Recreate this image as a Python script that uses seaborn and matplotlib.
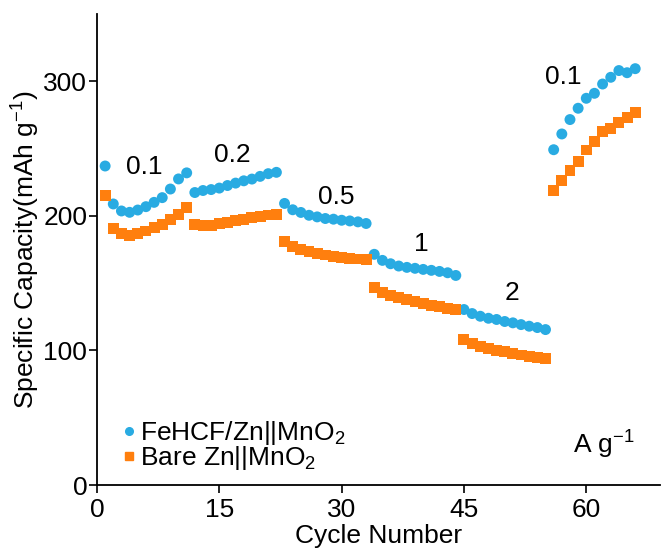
import numpy as np
import pandas as pd
import matplotlib
matplotlib.use("Agg")
import matplotlib.pyplot as plt
import seaborn as sns
from matplotlib.lines import Line2D

cycles = list(range(1, 67))
fehcf = [237, 208.8, 203.6, 202.6, 204.3, 206.8, 210, 213.5, 219.9, 227.4, 231.9,
         217.3, 218.8, 219.5, 220.6, 222.5, 224.3, 226, 227.3, 229.3, 231.3, 232.3,
         209.2, 204.5, 202.5, 200.4, 199.2, 198, 197.5, 196.7, 196.2, 195.5, 194.3,
         171.4, 166.9, 164.4, 162.7, 161.7, 161, 160.2, 159.5, 158.7, 157.7, 155.7,
         130.4, 127.4, 125.4, 123.9, 123, 121.5, 120.5, 119.2, 118, 117, 115.5,
         249.1, 260.8, 271.5, 279.9, 287.3, 291, 297.9, 302.9, 307.9, 306.3, 309.3]
bare = [214.8, 190.4, 186.7, 185.7, 186.7, 188.7, 191.2, 193.7, 197.5, 201.2, 206.1,
        193.7, 193, 193, 194.3, 195, 196.3, 197.3, 198.6, 199.6, 200.6, 201.2,
        180.6, 177.1, 175.1, 173.6, 172.1, 170.9, 169.6, 168.9, 168.4, 167.9, 167.7,
        147, 143.3, 140.8, 139.1, 137.6, 136.1, 134.9, 133.6, 132.4, 131.4, 130.4,
        108, 105.1, 103.1, 101.6, 100.1, 98.9, 97.6, 96.6, 95.6, 94.6, 93.7,
        218.6, 226.5, 234, 240.4, 248.9, 255.3, 262.5, 265, 269, 273.2, 276.9]
rate_labels = ["0.1", "0.2", "0.5", "1", "2", "0.1"]
rate_label_x = [5.8, 16.6, 29.3, 39.8, 50.9, 57.2]
rate_label_y = [236, 245, 214, 179, 143, 303]
series_names = ["FeHCF/Zn||MnO$_2$", "Bare Zn||MnO$_2$"]
colors = ["#29ABE2", "#FF7F0E"]
xticks = [0, 15, 30, 45, 60]
yticks = [0, 100, 200, 300]

sns.set_style("ticks")
plt.rcParams['font.family'] = ['Liberation Sans', 'DejaVu Sans']
plt.rcParams['mathtext.fontset'] = 'custom'
plt.rcParams['mathtext.rm'] = 'Liberation Sans'
plt.rcParams['mathtext.default'] = 'regular'
for k in ['text.color', 'axes.labelcolor', 'xtick.color', 'ytick.color', 'axes.edgecolor']:
    plt.rcParams[k] = 'black'

df = pd.DataFrame({
    "Cycle": cycles * 2,
    "Capacity": fehcf + bare,
    "Series": [series_names[0]] * len(cycles) + [series_names[1]] * len(cycles),
})

fig = plt.figure(figsize=(6.62, 5.55), dpi=100)
ax = fig.add_axes([0.1465, 0.126, 0.85, 0.849])

sns.scatterplot(data=df, x="Cycle", y="Capacity", hue="Series", style="Series",
                markers={series_names[0]: "o", series_names[1]: "s"},
                palette=dict(zip(series_names, colors)), s=62, linewidth=0,
                ax=ax, legend=False)

ax.set_xlim(0, 69)
ax.set_ylim(0, 350)
ax.set_xticks(xticks)
ax.set_yticks(yticks)
ax.tick_params(axis='both', labelsize=19, length=6, width=1.2, direction='out')
ax.tick_params(axis='y', pad=1)
ax.tick_params(axis='x', pad=3)
for s in ["top", "right"]:
    ax.spines[s].set_visible(False)
for s in ["left", "bottom"]:
    ax.spines[s].set_linewidth(1.3)
ax.set_xlabel("Cycle Number", fontsize=19, labelpad=2)
ax.set_ylabel("Specific Capacity(mAh g$^{-1}$)", fontsize=19, labelpad=1)

for t, x, y in zip(rate_labels, rate_label_x, rate_label_y):
    ax.text(x, y, t, fontsize=19, ha="center", va="center")
ax.text(62.2, 30, "A g$^{-1}$", fontsize=19, ha="center", va="center")

handles = [Line2D([], [], marker="o", color=colors[0], linestyle="none", markersize=5.5),
           Line2D([], [], marker="s", color=colors[1], linestyle="none", markersize=5.5)]
ax.legend(handles, series_names, loc="lower left", bbox_to_anchor=(0.02, 0.005),
          frameon=False, fontsize=19, handletextpad=0.0, labelspacing=-0.1,
          borderaxespad=0, handlelength=0.8)

fig.savefig("out.png", dpi=100)
